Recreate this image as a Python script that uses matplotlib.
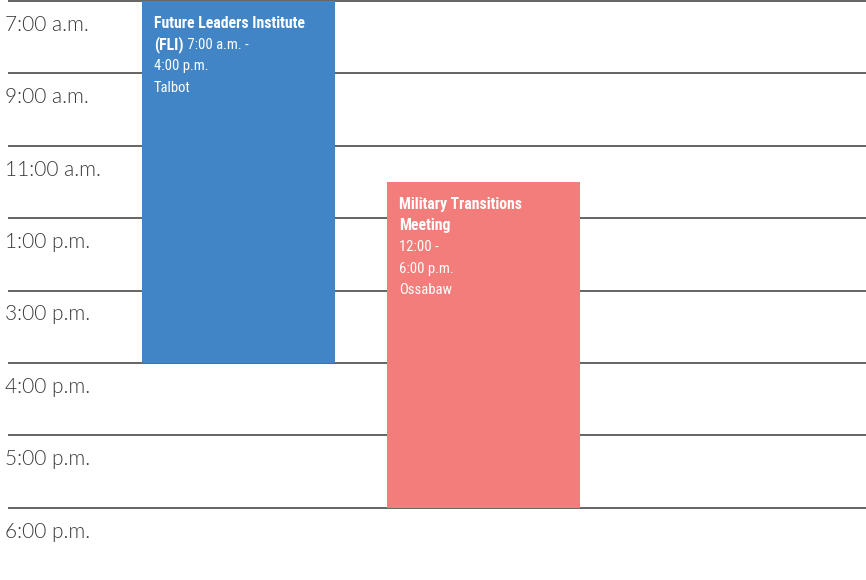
import matplotlib
matplotlib.use("Agg")
import matplotlib.pyplot as plt
from matplotlib.patches import Rectangle

times = ["7:00 a.m.", "9:00 a.m.", "11:00 a.m.", "1:00 p.m.", "3:00 p.m.",
         "4:00 p.m.", "5:00 p.m.", "6:00 p.m."]
event_titles = [["Future Leaders Institute", "(FLI)"], ["Military Transitions", "Meeting"]]
event_details = [["7:00 a.m. -", "4:00 p.m.", "Talbot"], ["12:00 -", "6:00 p.m.", "Ossabaw"]]
event_start = [0.0, 2.5]   # row index (7:00 a.m. = 0)
event_end = [5.0, 7.0]
event_col = [0, 1]
event_colors = ["#4285C6", "#F27D7A"]

W, H = 866, 580
fig = plt.figure(figsize=(W / 100, H / 100), dpi=100)
ax = fig.add_axes([0, 0, 1, 1])
ax.set_xlim(0, W)
row_px = 72.4
ax.set_ylim((H - 1) / row_px, -1 / row_px)
ax.axis("off")

cond = ["Roboto Condensed", "DejaVu Sans"]
lab_font = ["Lato", "DejaVu Sans"]

# grid lines
for i in range(len(times)):
    ax.plot([8, W], [i, i], color="#3a3a3a", lw=1.1, zorder=1, solid_capstyle="butt")
# time labels
for i, t in enumerate(times):
    ax.text(5, i + 0.33, t, fontsize=15, color="#3a3a3a", family=lab_font,
            fontweight=300, va="center", ha="left", zorder=3)

col_x0 = [142, 387]
col_w = 193
for k in range(len(event_start)):
    x0 = col_x0[event_col[k]]
    ax.add_patch(Rectangle((x0, event_start[k]), col_w, event_end[k] - event_start[k],
                           facecolor=event_colors[k], edgecolor="none", zorder=2))

fig.canvas.draw()
r = fig.canvas.get_renderer()
line_dy = 21.6 / row_px
fs_size = {"bold": 11.3, "normal": 10.5}
for k in range(len(event_start)):
    x = col_x0[event_col[k]] + 12
    y = event_start[k] + 22 / row_px
    titles = event_titles[k]
    details = list(event_details[k])
    lines = []
    for j, tl in enumerate(titles):
        if j == len(titles) - 1 and k == 0:
            lines.append([(tl, "bold"), (" " + details.pop(0), "normal")])
        else:
            lines.append([(tl, "bold")])
    for d in details:
        lines.append([(d, "normal")])
    for li, segs in enumerate(lines):
        xx = x
        for s, wgt in segs:
            t = ax.text(xx, y + li * line_dy, s, fontsize=fs_size[wgt], color="white",
                        family=cond, fontweight=wgt, va="center", ha="left", zorder=4)
            bb = t.get_window_extent(renderer=r)
            xx = xx + bb.width

fig.savefig("out.png", dpi=100)
